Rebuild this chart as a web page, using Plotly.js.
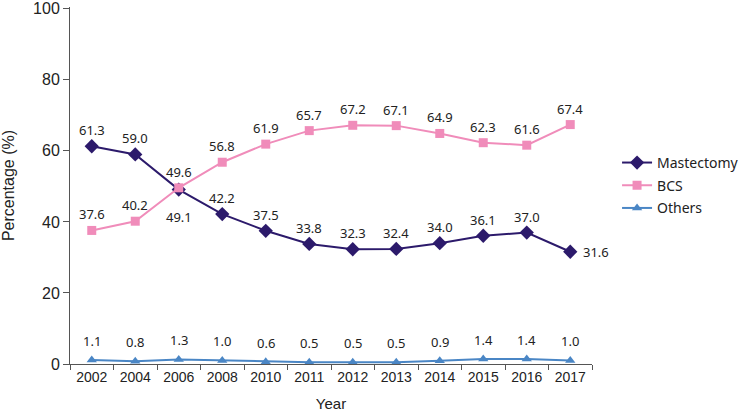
<!DOCTYPE html>
<html>
<head>
<meta charset="utf-8">
<script src="https://cdn.plot.ly/plotly-3.0.1.min.js"></script>
<style>html,body{margin:0;padding:0;background:#fff;}#chart{width:740px;height:416px;}</style>
</head>
<body>
<div id="chart"></div>
<script>
const years = ["2002","2004","2006","2008","2010","2011","2012","2013","2014","2015","2016","2017"];
const mastectomy = [61.3, 59.0, 49.1, 42.2, 37.5, 33.8, 32.3, 32.4, 34.0, 36.1, 37.0, 31.6];
const bcs = [37.6, 40.2, 49.6, 56.8, 61.9, 65.7, 67.2, 67.1, 64.9, 62.3, 61.6, 67.4];
const others = [1.1, 0.8, 1.3, 1.0, 0.6, 0.5, 0.5, 0.5, 0.9, 1.4, 1.4, 1.0];

const FONT = "Noto Sans, Arial, sans-serif";
const AXFONT = "Liberation Sans, Arial, sans-serif";
const C_M = "#2c1a6b", C_B = "#f08cba", C_O = "#4a86c5";

function trace(name, y, color, symbol, size) {
  return {
    type: "scatter", mode: "lines+markers", name: name, legendgroup: name,
    x: years, y: y,
    line: {color: color, width: 2},
    marker: {color: color, symbol: symbol, size: size},
    hoverinfo: "skip"
  };
}

const data = [
  trace("Mastectomy", mastectomy, C_M, "diamond", 11),
  trace("BCS", bcs, C_B, "square", 9),
  trace("Others", others, C_O, "triangle-up", 9)
];

// label placement (style only): default above the marker
function labels(y, opts) {
  return y.map((v, i) => {
    const o = (opts && opts[i]) || {};
    return {
      x: i, y: v, xref: "x", yref: "y",
      text: v.toFixed(1), showarrow: false,
      font: {family: FONT, size: 13, color: "#222"},
      xshift: o.xshift || 0,
      yshift: o.yshift !== undefined ? o.yshift : 16
    };
  });
}
const annotations = [].concat(
  labels(mastectomy, {2: {yshift: -27}, 11: {xshift: 26, yshift: 0}}),
  labels(bcs),
  labels(others, Object.fromEntries(years.map((_, i) => [i, {yshift: 19}])))
);

const layout = {
  width: 740, height: 416,
  margin: {l: 70, r: 148, t: 7, b: 52, autoexpand: false},
  paper_bgcolor: "#fff", plot_bgcolor: "#fff",
  font: {family: FONT, color: "#222"},
  showlegend: true,
  legend: {
    x: 1.048, xanchor: "left", y: 0.608, yanchor: "top",
    font: {family: FONT, size: 14, color: "#222"},
    traceorder: "grouped", tracegroupgap: 1.5, itemwidth: 30
  },
  xaxis: {
    type: "category", range: [-0.5, years.length - 0.5], autorange: false,
    automargin: false,
    showgrid: false, zeroline: false,
    showline: true, linecolor: "#555", linewidth: 1,
    ticks: "outside", tickson: "boundaries", ticklen: 5, tickcolor: "#555",
    tickangle: 0,
    tickfont: {family: AXFONT, size: 14, color: "#222"},
    title: {text: "Year", font: {family: AXFONT, size: 15, color: "#222"}, standoff: 14}
  },
  yaxis: {
    range: [0, 100.5], autorange: false, dtick: 20,
    automargin: false,
    showgrid: false, zeroline: false,
    showline: true, linecolor: "#555", linewidth: 1,
    ticks: "outside", ticklen: 6, tickcolor: "#555",
    tickfont: {family: AXFONT, size: 16, color: "#222"},
    title: {text: "Percentage (%)", font: {family: AXFONT, size: 16, color: "#222"}, standoff: 14}
  },
  annotations: annotations
};

Plotly.newPlot("chart", data, layout, {displayModeBar: false, staticPlot: true});
</script>
</body>
</html>
